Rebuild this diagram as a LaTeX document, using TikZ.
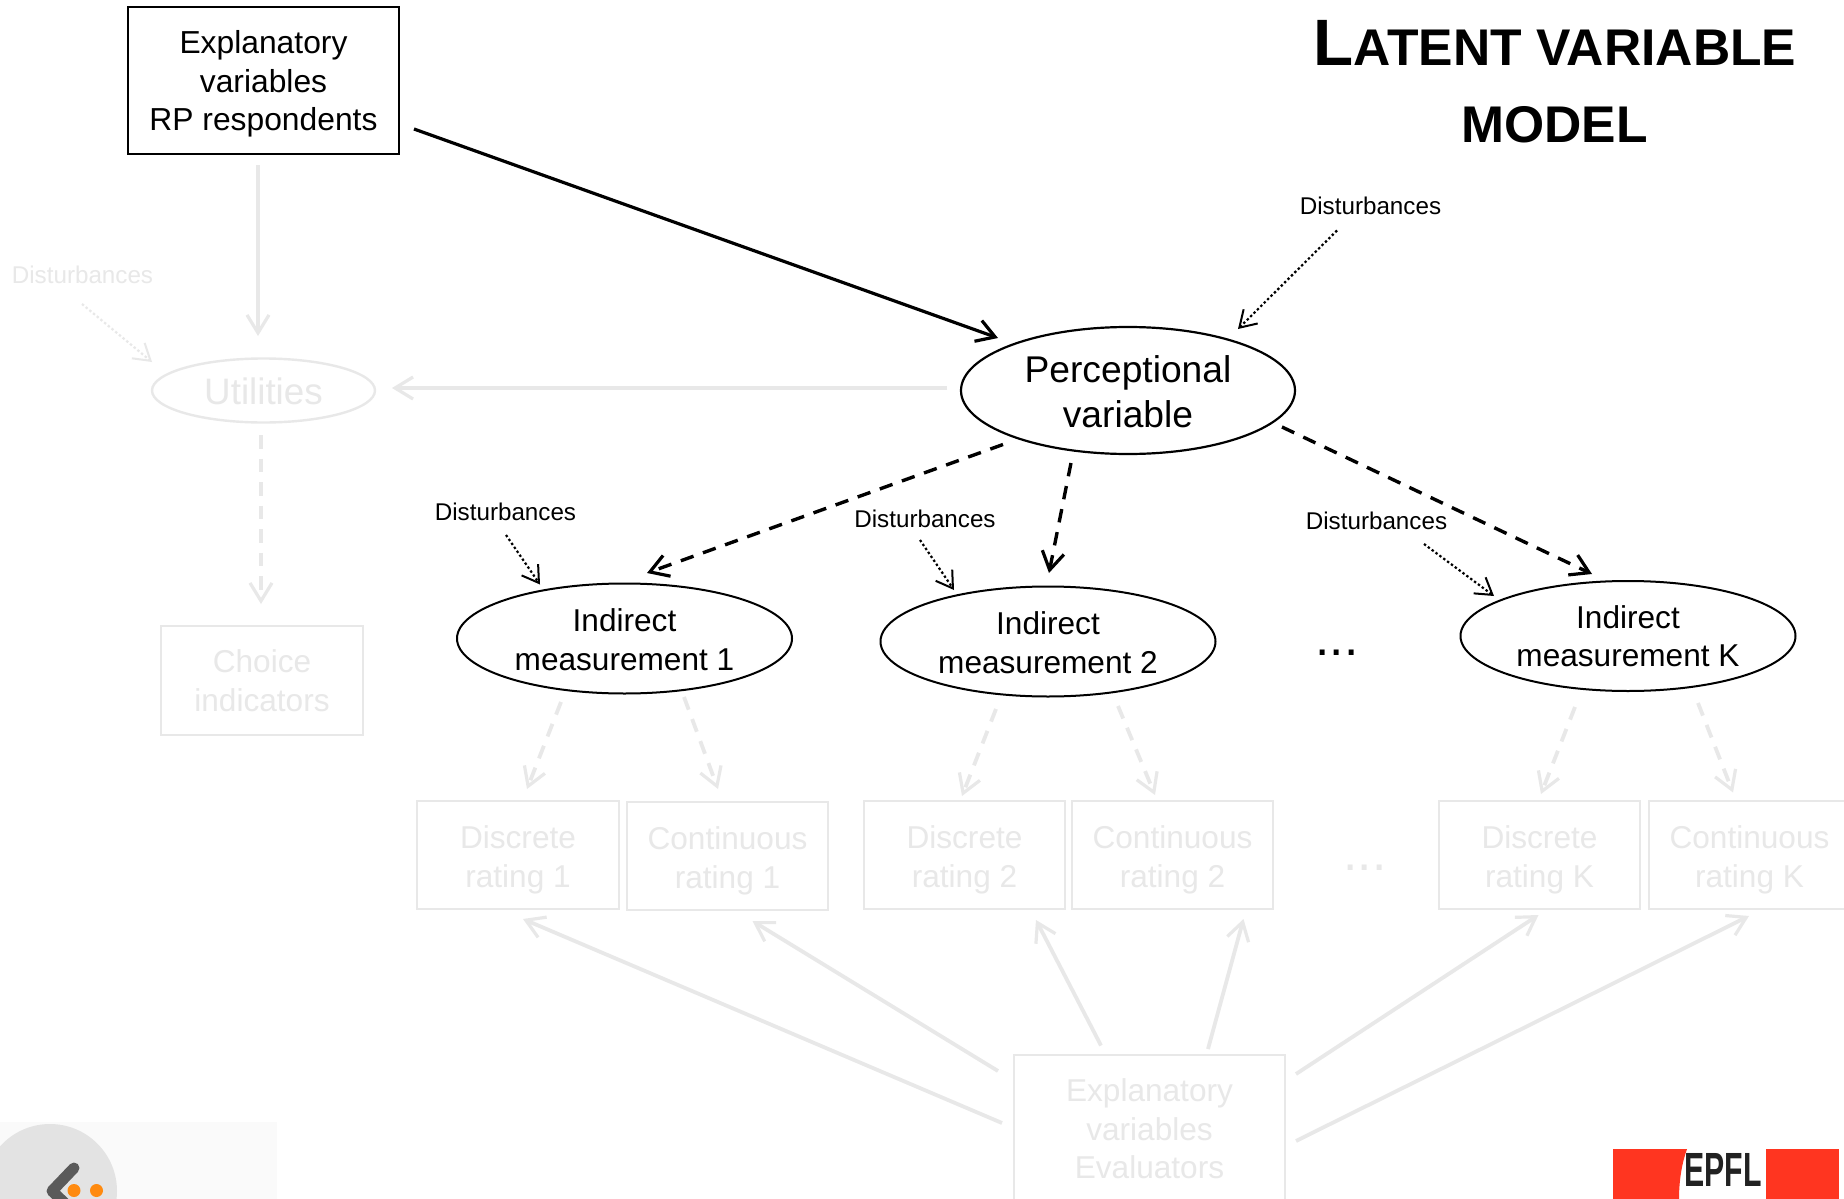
\documentclass[tikz,border=0pt]{standalone}
\usepackage{fontspec}
\setmainfont{Liberation Sans}
\usetikzlibrary{arrows.meta,shapes.geometric}
\definecolor{faint}{HTML}{E8E8E8}
\definecolor{epared}{HTML}{FF3520}
\definecolor{logobg}{HTML}{FAFAFA}
\definecolor{logocirc}{HTML}{E3E3E3}
\definecolor{logochev}{HTML}{5A5A5A}
\definecolor{logodot}{HTML}{FF8A0F}
\definecolor{epadark}{HTML}{222222}
\newcommand{\conn}[5]{\draw[#1] ([shift={(#3)}]#2.center) -- ([shift={(#5)}]#4.center);}
\tikzset{
  lifted/.style={execute at begin node={\rule{0pt}{#1}}},
  barb/.style={-{Straight Barb[length=9pt,width=11pt,line width=1.6pt]}},
  smallbarb/.style={-{Straight Barb[length=8pt,width=10pt,line width=1pt]}},
  solidblack/.style={barb,draw=black,line width=1.6pt},
  dashblack/.style={barb,draw=black,line width=1.7pt,dash pattern=on 6.75pt off 5pt},
  dotblack/.style={smallbarb,draw=black,line width=1.1pt,dash pattern=on 1.2pt off 1.2pt},
  solidfaint/.style={barb,draw=faint,line width=1.9pt},
  dashfaint/.style={barb,draw=faint,line width=1.9pt,dash pattern=on 6.75pt off 5pt},
  dotfaint/.style={smallbarb,draw=faint,line width=1.1pt,dash pattern=on 1.2pt off 1.2pt},
  boxblack/.style={draw=black,line width=1.1pt,align=center,inner sep=0pt,font=\fontsize{15.9}{19.25}\selectfont},
  boxfaint/.style={draw=faint,text=faint,line width=1.2pt,align=center,inner sep=0pt,font=\fontsize{15.8}{19.25}\selectfont},
  ellblack/.style={ellipse,draw=black,line width=1pt,align=center,inner sep=0pt,font=\fontsize{15.8}{19.25}\selectfont},
  ellfaint/.style={ellipse,draw=faint,text=faint,line width=1.2pt,align=center,inner sep=0pt},
  noteblack/.style={inner sep=0pt,font=\fontsize{12.1}{14}\selectfont},
  notefaint/.style={inner sep=0pt,text=faint,font=\fontsize{12.1}{14}\selectfont},
  titletext/.style={inner sep=0pt,font=\bfseries\fontsize{25.8}{33}\selectfont,anchor=base}
}
\begin{document}
\begin{tikzpicture}[x=.5pt,y=-.5pt]
\useasboundingbox (0,0) rectangle (1844,1199);
\clip (0,0) rectangle (1844,1199);
\fill[white] (0,0) rectangle (1844,1199);

% title
\node[titletext] (t1) at (1555,65) {{\fontsize{32.8}{33}\selectfont L}ATENT VARIABLE};
\node[titletext] (t2) at (1554.5,142) {MODEL};

% nodes
\node[boxblack,lifted=53.5pt,minimum width=135.25pt,minimum height=73.5pt] (expl) at (263.5,80.5) {Explanatory\\variables\\RP respondents};
\node[ellipse,lifted=37.1pt,draw=black,line width=1.1pt,align=center,inner sep=0pt,minimum width=167pt,minimum height=63.5pt,font=\fontsize{18.6}{22.3}\selectfont] (perc) at (1128,390.5) {Perceptional\\variable};
\node[ellfaint,lifted=14.6pt,minimum width=111.5pt,minimum height=32pt,font=\fontsize{18.4}{22}\selectfont] (util) at (263.5,390.5) {Utilities};
\node[boxfaint,minimum width=101pt,minimum height=54.5pt] (choice) at (262,680.5) {Choice\\indicators};
\node[ellblack,lifted=32pt,minimum width=167.5pt,minimum height=55pt] (ind1) at (624.5,638.5) {Indirect\\measurement 1};
\node[ellblack,lifted=32pt,minimum width=167.5pt,minimum height=55pt] (ind2) at (1048,641.5) {Indirect\\measurement 2};
\node[ellblack,lifted=31pt,minimum width=167.5pt,minimum height=55pt] (indK) at (1628,636) {Indirect\\measurement K};
\node[boxfaint,lifted=35.5pt,minimum width=101pt,minimum height=54pt] (d1) at (518,855) {Discrete\\rating 1};
\node[boxfaint,lifted=35.5pt,minimum width=100.5pt,minimum height=54pt] (c1) at (727.5,856) {Continuous\\rating 1};
\node[boxfaint,lifted=35.5pt,minimum width=100.5pt,minimum height=54pt] (d2) at (964.5,855) {Discrete\\rating 2};
\node[boxfaint,lifted=35.5pt,minimum width=100.5pt,minimum height=54pt] (c2) at (1172.5,855) {Continuous\\rating 2};
\node[boxfaint,lifted=35.5pt,minimum width=100.5pt,minimum height=54pt] (dk) at (1539.5,855) {Discrete\\rating K};
\node[boxfaint,lifted=35.5pt,minimum width=100.5pt,minimum height=54pt] (ck) at (1749.5,855) {Continuous\\rating K};
\node[boxfaint,minimum width=135.5pt,minimum height=74pt] (eval) at (1149.5,1129) {Explanatory\\variables\\Evaluators};

\node[notefaint] (dist0) at (82.5,275) {Disturbances};
\node[noteblack] (distT) at (1370.5,206) {Disturbances};
\node[noteblack] (dist1) at (505.5,512) {Disturbances};
\node[noteblack] (dist2) at (925,519) {Disturbances};
\node[noteblack] (distK) at (1376.5,521) {Disturbances};

\node[inner sep=0pt,anchor=base,font=\fontsize{25.7}{30}\selectfont] (dots1) at (1337,655) {...};
\node[inner sep=0pt,anchor=base,text=faint,font=\fontsize{25.7}{30}\selectfont] (dots2) at (1365,870) {...};

% connectors
\conn{solidblack}{expl}{150.5,48.5}{perc}{-130,-52.5}
\conn{dotblack}{distT}{-33.5,24.5}{perc}{110,-61.5}
\conn{solidfaint}{expl}{-5.5,84.5}{util}{-5.5,-54.5}
\conn{dotfaint}{dist0}{-0.5,29}{util}{-111.5,-28.5}
\conn{solidfaint}{perc}{-181,-2.5}{util}{128.5,-2.5}
\conn{dashfaint}{util}{-2.5,44.5}{choice}{-1,-76.5}
\conn{dashblack}{perc}{-125,54}{ind1}{22.5,-65.5}
\conn{dashblack}{perc}{-57,72.5}{ind2}{1,-68.5}
\conn{dashblack}{perc}{154,36.5}{indK}{-36,-62}
\conn{dotblack}{dist1}{0.5,23}{ind1}{-84.5,-54}
\conn{dotblack}{dist2}{-5,21}{ind2}{-94,-51.5}
\conn{dotblack}{distK}{47.5,23}{indK}{-134,-40}
\conn{dashfaint}{ind1}{-63.5,63.5}{d1}{9,-66}
\conn{dashfaint}{ind1}{59.5,58.5}{c1}{-9.5,-67}
\conn{dashfaint}{ind2}{-52,67.5}{d2}{-2.5,-59}
\conn{dashfaint}{ind2}{70,64.5}{c2}{-17.5,-60}
\conn{dashfaint}{indK}{-53,71}{dk}{1.5,-61}
\conn{dashfaint}{indK}{70,67}{ck}{-16.5,-62.5}
\conn{solidfaint}{eval}{-147.5,-6}{d1}{5,64}
\conn{solidfaint}{eval}{-151.5,-58}{c1}{25,65}
\conn{solidfaint}{eval}{-48.5,-83.5}{d2}{71.5,65}
\conn{solidfaint}{eval}{58.5,-80}{c2}{71,64}
\conn{solidfaint}{eval}{146.5,-55}{dk}{-1,60}
\conn{solidfaint}{eval}{146.5,12}{ck}{-0.5,61}

% corner logos
\fill[logobg] (0,1122) rectangle (277,1199);
\fill[logocirc] (50,1191) circle[radius=67];
\draw[logochev,line width=5.5pt,line cap=round,line join=round] (74,1168) -- (52,1191) -- (70,1208);
\fill[logodot] (74,1190.5) circle[radius=6.5];
\fill[logodot] (96.5,1190.5) circle[radius=6.5];

\fill[epared] (1613,1149) -- (1687,1149) .. controls (1682,1163) and (1679,1180) .. (1679,1199) -- (1613,1199) -- cycle;
\fill[epared] (1766,1149) rectangle (1839,1199);
\node[inner sep=0pt,anchor=base,xscale=.63,font=\bfseries\fontsize{24}{26}\selectfont,text=epadark] (epfl) at (1723,1186) {EPFL};
\end{tikzpicture}
\end{document}
